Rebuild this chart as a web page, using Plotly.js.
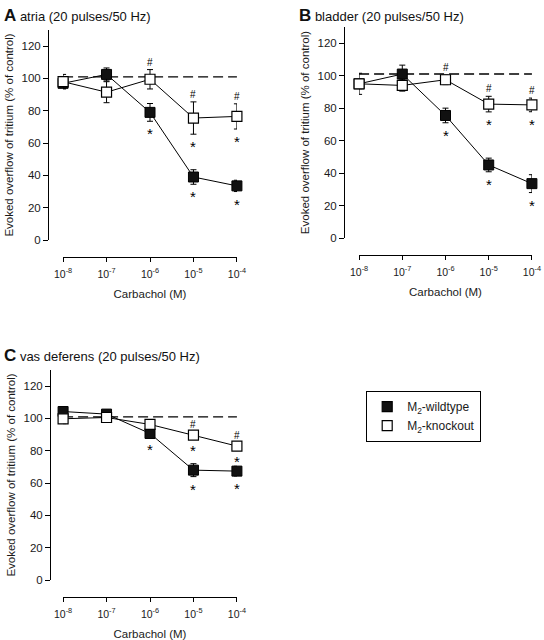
<!DOCTYPE html>
<html><head><meta charset="utf-8">
<script src="https://cdn.plot.ly/plotly-3.0.1.min.js"></script>
<style>html,body{margin:0;padding:0;background:#fff}#chart{width:544px;height:640px}</style>
</head><body><div id="chart"></div>
<script>
// ---------- data ----------
const concentrations = [1e-8, 1e-7, 1e-6, 1e-5, 1e-4];
const tickLabels = ['10<sup>-8</sup>', '10<sup>-7</sup>', '10<sup>-6</sup>', '10<sup>-5</sup>', '10<sup>-4</sup>'];
const yTicks = [0, 20, 40, 60, 80, 100, 120];
const controlLevel = 101;
const seriesNames = ['M<sub>2</sub>-wildtype', 'M<sub>2</sub>-knockout'];

// A atria
const atriaWildtype = [97, 102.5, 79, 39, 33.5];
const atriaWildtypeSem = [3, 4, 5.5, 4.5, 3.5];
const atriaKnockout = [98, 91.5, 99.5, 75.5, 76.5];
const atriaKnockoutSem = [4.5, 6.5, 6, 10, 7.8];
const atriaWildtypeStar = ['', '', '*', '*', '*'];
const atriaKnockoutStar = ['', '', '', '*', '*'];
const atriaKnockoutHash = ['', '', '#', '#', '#'];

// B bladder
const bladderWildtype = [95, 101, 75.5, 45, 33.5];
const bladderWildtypeSem = [6.5, 5.5, 4.5, 4.2, 5.5];
const bladderKnockout = [95, 94, 97.5, 82.5, 82];
const bladderKnockoutSem = [3, 3.5, 3, 4.8, 4.2];
const bladderWildtypeStar = ['', '', '*', '*', '*'];
const bladderKnockoutStar = ['', '', '', '*', '*'];
const bladderKnockoutHash = ['', '', '#', '#', '#'];

// C vas deferens
const vasWildtype = [104.3, 102.7, 90.7, 68, 67.4];
const vasWildtypeSem = [2, 2.5, 2, 4, 3];
const vasKnockout = [99.8, 100.6, 96.3, 89.7, 82.9];
const vasKnockoutSem = [3, 2, 2, 2, 2];
const vasWildtypeStar = ['', '', '*', '*', '*'];
const vasKnockoutStar = ['', '', '', '*', '*'];
const vasKnockoutHash = ['', '', '', '#', '#'];

const panelLetters = ['A', 'B', 'C'];
const panelNames = ['atria (20 pulses/50 Hz)', 'bladder (20 pulses/50 Hz)', 'vas deferens (20 pulses/50 Hz)'];

// ---------- layout helpers ----------
const W = 544, H = 640;
const FONT = 'Arial, "Liberation Sans", Helvetica, sans-serif';
const INK = '#000';
const px = v => v / W, py = v => (H - v) / H;

const panels = [
  { wt: atriaWildtype, wtE: atriaWildtypeSem, ko: atriaKnockout, koE: atriaKnockoutSem,
    wtS: atriaWildtypeStar, koS: atriaKnockoutStar, koH: atriaKnockoutHash,
    geo: { yAxisX: 48, yTop: 30, yZero: 240, xL: 63, xR: 237, xAxisY: 257, titleX: 2, titleY: 4 } },
  { wt: bladderWildtype, wtE: bladderWildtypeSem, ko: bladderKnockout, koE: bladderKnockoutSem,
    wtS: bladderWildtypeStar, koS: bladderKnockoutStar, koH: bladderKnockoutHash,
    geo: { yAxisX: 344, yTop: 27, yZero: 238, xL: 359, xR: 532, xAxisY: 255, titleX: 297, titleY: 4 } },
  { wt: vasWildtype, wtE: vasWildtypeSem, ko: vasKnockout, koE: vasKnockoutSem,
    wtS: vasWildtypeStar, koS: vasKnockoutStar, koH: vasKnockoutHash,
    geo: { yAxisX: 50, yTop: 370, yZero: 580, xL: 63, xR: 237, xAxisY: 597, titleX: 2, titleY: 344 } }
];

const traces = [];
const annotations = [];
const layout = {
  width: W, height: H,
  margin: { l: 0, r: 0, t: 0, b: 0 },
  paper_bgcolor: '#fff', plot_bgcolor: 'rgba(0,0,0,0)',
  font: { family: FONT, size: 11, color: '#1a1a1a' },
  showlegend: true,
  legend: {
    x: px(366), y: py(391), xanchor: 'left', yanchor: 'top',
    bordercolor: INK, borderwidth: 1.2, bgcolor: '#fff',
    font: { family: FONT, size: 12, color: '#1a1a1a' },
    tracegroupgap: 0, itemwidth: 30
  }
};

panels.forEach((p, i) => {
  const n = i === 0 ? '' : String(i + 1);
  const xa = 'x' + n, ya = 'y' + n;
  const g = p.geo;
  layout['xaxis' + n] = {
    type: 'log', range: [-8.002, -3.998], domain: [px(g.xL), px(g.xR)],
    anchor: 'free', position: py(g.xAxisY),
    tickvals: concentrations, ticktext: tickLabels,
    showgrid: false, zeroline: false, showline: true, linecolor: INK, linewidth: 1.2,
    ticks: 'outside', ticklen: 4, tickcolor: INK, tickwidth: 1,
    ticklabelstandoff: 3,
    tickfont: { family: FONT, size: 10.5, color: '#1a1a1a' },
    title: { text: 'Carbachol (M)', font: { family: FONT, size: 11.5, color: '#1a1a1a' }, standoff: 11 },
    automargin: false, fixedrange: true
  };
  layout['yaxis' + n] = {
    range: [0, 130], domain: [py(g.yZero), py(g.yTop)],
    anchor: 'free', position: px(g.yAxisX),
    tickvals: yTicks,
    showgrid: false, zeroline: false, showline: true, linecolor: INK, linewidth: 1.2,
    ticks: 'outside', ticklen: 5, tickcolor: INK, tickwidth: 1,
    tickfont: { family: FONT, size: 11.5, color: '#1a1a1a' },
    title: { text: 'Evoked overflow of tritium (% of control)', font: { family: FONT, size: 11.5, color: '#1a1a1a' }, standoff: 4 },
    automargin: false, fixedrange: true
  };

  // control (100 %) reference line
  traces.push({
    x: [concentrations[0], concentrations[concentrations.length - 1]], y: [controlLevel, controlLevel],
    xaxis: xa, yaxis: ya, mode: 'lines', showlegend: false, hoverinfo: 'skip',
    line: { color: INK, width: 1.4, dash: '10px,5px' }, cliponaxis: false
  });
  // wildtype
  traces.push({
    x: concentrations, y: p.wt, xaxis: xa, yaxis: ya, mode: 'lines+markers', showlegend: false,
    name: seriesNames[0],
    line: { color: INK, width: 1 },
    marker: { symbol: 'square', size: 10, color: '#111', line: { color: INK, width: 1 } },
    error_y: { type: 'data', array: p.wtE, visible: true, color: INK, thickness: 1, width: 3 },
    cliponaxis: false
  });
  // knockout
  traces.push({
    x: concentrations, y: p.ko, xaxis: xa, yaxis: ya, mode: 'lines+markers', showlegend: false,
    name: seriesNames[1],
    line: { color: INK, width: 1 },
    marker: { symbol: 'square', size: 10, color: '#fff', line: { color: INK, width: 1.2 } },
    error_y: { type: 'data', array: p.koE, visible: true, color: INK, thickness: 1, width: 3 },
    cliponaxis: false
  });

  // significance symbols
  concentrations.forEach((c, k) => {
    const lx = Math.log10(c);
    if (p.wtS[k]) annotations.push({ xref: xa, yref: ya, x: lx, y: p.wt[k] - p.wtE[k], text: p.wtS[k],
      showarrow: false, yanchor: 'top', yshift: -2, font: { family: FONT, size: 15, color: INK } });
    if (p.koS[k]) annotations.push({ xref: xa, yref: ya, x: lx, y: p.ko[k] - p.koE[k], text: p.koS[k],
      showarrow: false, yanchor: 'top', yshift: -2, font: { family: FONT, size: 15, color: INK } });
    if (p.koH[k]) annotations.push({ xref: xa, yref: ya, x: lx, y: p.ko[k] + p.koE[k], text: p.koH[k],
      showarrow: false, yanchor: 'bottom', yshift: 0, font: { family: FONT, size: 10, color: INK } });
  });

  // panel title
  annotations.push({
    xref: 'paper', yref: 'paper', x: px(g.titleX), y: py(g.titleY), xanchor: 'left', yanchor: 'top',
    showarrow: false, align: 'left',
    text: '<b><span style="font-size:17px">' + panelLetters[i] + '</span></b> ' + panelNames[i],
    font: { family: FONT, size: 13, color: '#111' }
  });
});

// legend entries (symbols only)
seriesNames.forEach((nm, k) => {
  traces.push({
    x: [null], y: [null], xaxis: 'x3', yaxis: 'y3', mode: 'markers', name: nm, showlegend: true,
    marker: { symbol: 'square', size: 10, color: k === 0 ? '#111' : '#fff', line: { color: INK, width: 1.2 } }
  });
});

layout.annotations = annotations;
Plotly.newPlot('chart', traces, layout, { displayModeBar: false, staticPlot: true });
</script>
</body></html>
